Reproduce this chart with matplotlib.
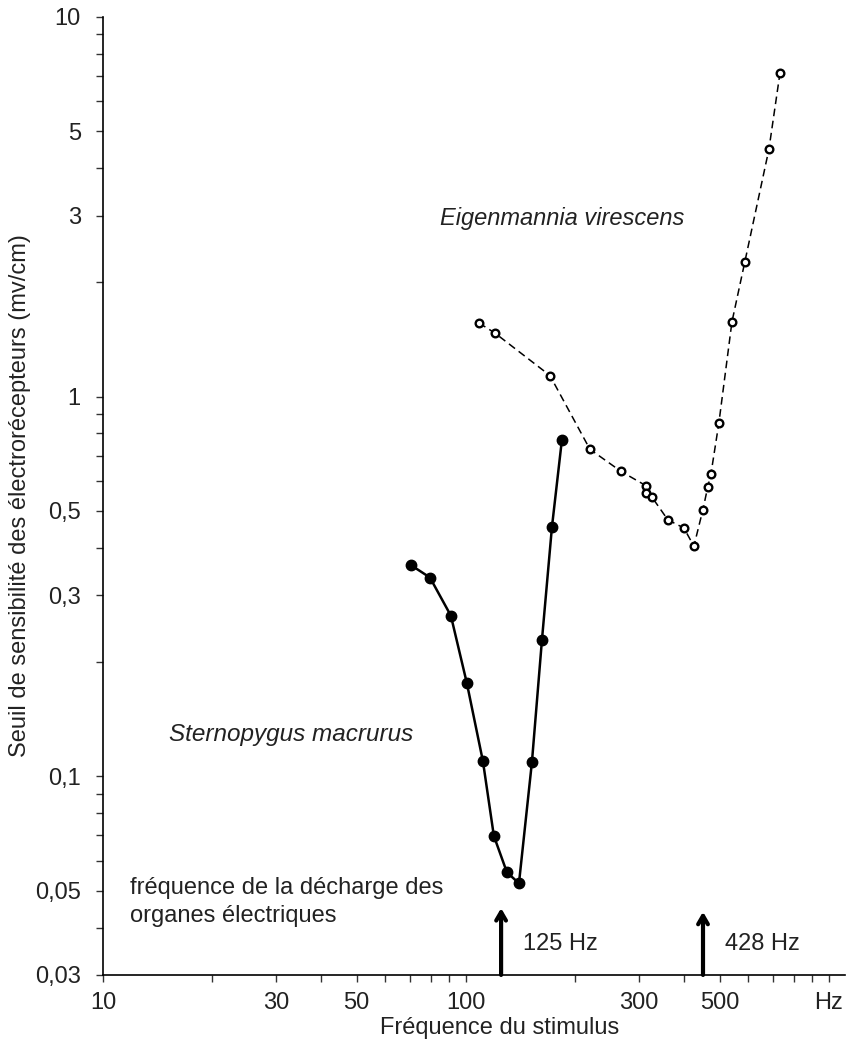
import matplotlib
matplotlib.use("Agg")
import matplotlib.pyplot as plt
from matplotlib.ticker import FixedLocator, FixedFormatter, LogLocator, NullFormatter

plt.rcParams['font.family'] = ['Liberation Sans', 'DejaVu Sans']

# Sternopygus macrurus (filled circles, solid line)
stern_freq = [70.6, 79.6, 90.9, 100.6, 111.4, 119.4, 129.7, 140, 152, 162, 172.6, 183.8]
stern_thr = [0.36, 0.334, 0.265, 0.176, 0.1096, 0.0697, 0.0559, 0.0523, 0.109, 0.229, 0.454, 0.768]

# Eigenmannia virescens (open circles, dashed line)
eigen_freq = [108.6, 120.2, 170.4, 219.6, 267.3, 313.3, 313.3, 325, 360, 398.6, 424.7,
              449.7, 464, 473, 497.7, 540.6, 587, 683.5, 733]
eigen_thr = [1.564, 1.471, 1.137, 0.727, 0.636, 0.583, 0.559, 0.545, 0.474, 0.451, 0.404,
             0.504, 0.580, 0.624, 0.853, 1.573, 2.27, 4.48, 7.10]

# organ discharge frequencies (arrows)
arrow_freq = [125, 450]
arrow_top = [0.045, 0.044]
arrow_labels = ['125 Hz', '428 Hz']

x_ticks = [10, 30, 50, 100, 300, 500, 1000]
x_ticklabels = ['10', '30', '50', '100', '300', '500', 'Hz']
y_ticks = [0.03, 0.05, 0.1, 0.3, 0.5, 1, 3, 5, 10]
y_ticklabels = ['0,03', '0,05', '0,1', '0,3', '0,5', '1', '3', '5', '10']

txt = '#222222'
fs = 17

fig = plt.figure(figsize=(8.46, 10.48), dpi=100)
ax = fig.add_axes([0.1217, 0.0697, 0.877, 0.9141])

ax.plot(stern_freq, stern_thr, '-', color='black', lw=1.8,
        marker='o', ms=7.5, mfc='black', mec='black', zorder=3)
ax.plot(eigen_freq, eigen_thr, color='black', lw=1.1, dashes=(5, 3),
        marker='o', ms=5.5, mfc='white', mec='black', mew=1.7, zorder=3)

ax.set_xscale('log')
ax.set_yscale('log')
ax.set_xlim(10, 1107)
ax.set_ylim(0.03, 10)

for s in ['top', 'right']:
    ax.spines[s].set_visible(False)
for s in ['left', 'bottom']:
    ax.spines[s].set_linewidth(1.2)

ax.xaxis.set_major_locator(FixedLocator(x_ticks))
ax.xaxis.set_major_formatter(FixedFormatter(x_ticklabels))
ax.xaxis.set_minor_locator(LogLocator(base=10, subs=range(2, 10)))
ax.xaxis.set_minor_formatter(NullFormatter())
ax.yaxis.set_major_locator(FixedLocator(y_ticks))
ax.yaxis.set_major_formatter(FixedFormatter(y_ticklabels))
ax.yaxis.set_minor_locator(LogLocator(base=10, subs=range(2, 10)))
ax.yaxis.set_minor_formatter(NullFormatter())
ax.tick_params(which='both', direction='out', length=5, width=1, color='#333333',
               labelsize=fs, labelcolor=txt)
ax.tick_params(axis='y', which='major', pad=11)
ax.tick_params(axis='x', which='major', pad=7)

for f, top, lab in zip(arrow_freq, arrow_top, arrow_labels):
    ax.annotate('', xy=(f, top), xytext=(f, 0.03),
                arrowprops=dict(arrowstyle='->,head_length=0.6,head_width=0.35',
                                lw=3, color='black', shrinkA=0, shrinkB=0))
    ax.text(f * 1.15, 0.0362, lab, fontsize=fs, color=txt, va='center', ha='left')

ax.text(11.9, 0.0467, 'fréquence de la décharge des\norganes électriques',
        fontsize=fs, color=txt, va='center', ha='left', linespacing=1.35)

ax.text(84.8, 2.94, 'Eigenmannia virescens', fontsize=fs, style='italic',
        color=txt, ha='left', va='center')
ax.text(15.2, 0.1286, 'Sternopygus macrurus', fontsize=17.5, style='italic',
        color=txt, ha='left', va='center')

ax.set_xlabel('Fréquence du stimulus', fontsize=fs, color=txt)
ax.xaxis.set_label_coords(0.535, -0.044)
ax.set_ylabel('Seuil de sensibilité des électrorécepteurs (mv/cm)', fontsize=fs, color=txt)
ax.yaxis.set_label_coords(-0.097, 0.5)

fig.savefig('out.png', dpi=100)
